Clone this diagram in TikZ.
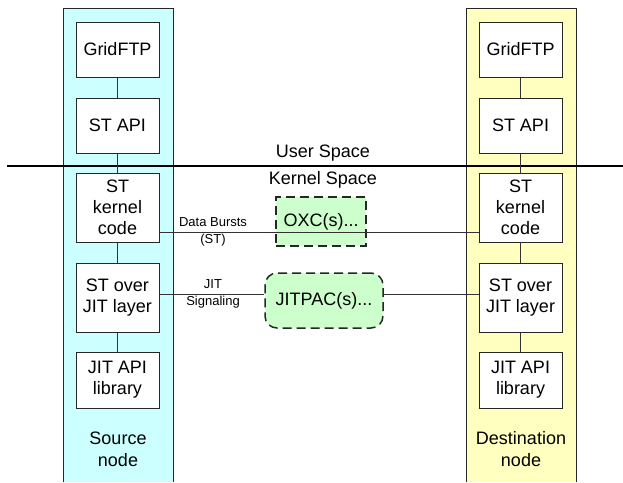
\documentclass[tikz,border=0pt]{standalone}
\usepackage{fontspec}
\setmainfont{Liberation Sans}
\definecolor{srcfill}{HTML}{CCFFFF}
\definecolor{dstfill}{HTML}{FFFFC0}
\definecolor{xfill}{HTML}{CCFFCC}
\begin{document}
\begin{tikzpicture}[x=1pt,y=-1pt,
  font=\fontsize{18}{21}\selectfont,
  layer/.style={draw=black!85, fill=white, line width=1pt, minimum width=83pt,
    align=center, inner sep=0pt},
  link/.style={draw=black!80, line width=0.8pt},
  switchbox/.style={draw=black!85, fill=xfill, line width=1.5pt,
    dash pattern=on 9pt off 5pt, align=center, inner sep=0pt},
  smalllabel/.style={font=\fontsize{13}{17}\selectfont, align=center},
  caption/.style={align=center, font=\fontsize{18}{22}\selectfont}]
\useasboundingbox (0,0) rectangle (623,482);

% host columns
\fill[srcfill] (63,8) rectangle (173,482);
\draw[line width=1pt, black!85] (63,482) -- (63,8) -- (173,8) -- (173,482);
\fill[dstfill] (466,8) rectangle (576,482);
\draw[line width=1pt, black!85] (466,482) -- (466,8) -- (576,8) -- (576,482);

% user / kernel divider
\draw[line width=2pt] (7,166) -- (623,166);
\node (user) at (323,153) {User Space};
\node (kernel) at (323,180) {Kernel Space};

% source stack
\node[layer, minimum height=55pt] (lg) at (117.5,49.5) {GridFTP};
\node[layer, minimum height=55pt] (la) at (117.5,125.5) {ST API};
\node[layer, minimum height=69pt] (lk) at (117.5,207.5) {ST\\kernel\\code};
\node[layer, minimum height=69pt] (lj) at (117.5,297.5) {ST over\\JIT layer};
\node[layer, minimum height=56pt] (ll) at (117.5,380) {JIT API\\library};

% destination stack
\node[layer, minimum height=55pt] (rg) at (520.5,49.5) {GridFTP};
\node[layer, minimum height=55pt] (ra) at (520.5,125.5) {ST API};
\node[layer, minimum height=69pt] (rk) at (520.5,207.5) {ST\\kernel\\code};
\node[layer, minimum height=69pt] (rj) at (520.5,297.5) {ST over\\JIT layer};
\node[layer, minimum height=56pt] (rl) at (520.5,380) {JIT API\\library};

\foreach \p in {l,r}{
  \draw[link] (\p g) -- (\p a);
  \draw[link] (\p a) -- (\p k);
  \draw[link] (\p k) -- (\p j);
  \draw[link] (\p j) -- (\p l);
}

% network elements
\node[switchbox, minimum width=90pt, minimum height=49pt] (oxc) at (321,221.5) {OXC(s)...};
\node[switchbox, rounded corners=12pt, minimum width=118pt, minimum height=55pt] (jitpac) at (324,300.5) {JITPAC(s)...};

% attachment points of the data and signaling paths
\coordinate (ldata) at ([yshift=10pt]lk.south east);
\coordinate (rdata) at ([yshift=10pt]rk.south west);
\coordinate (lsig) at ([yshift=3.5pt]lj.east);
\coordinate (rsig) at ([yshift=3.5pt]rj.west);

% data path and signaling path
\draw[link] (ldata) -- (rdata);
\draw[link] (lsig) -- (jitpac.west |- lsig);
\draw[link] (jitpac.east |- rsig) -- (rsig);

\node[smalllabel] (dlab) at (213,231.5) {Data Bursts\\(ST)};
\node[smalllabel] (slab) at (213,293.5) {JIT\\Signaling};

\node[caption] (src) at (118,449) {Source\\node};
\node[caption] (dst) at (521,449) {Destination\\node};
\end{tikzpicture}
\end{document}
